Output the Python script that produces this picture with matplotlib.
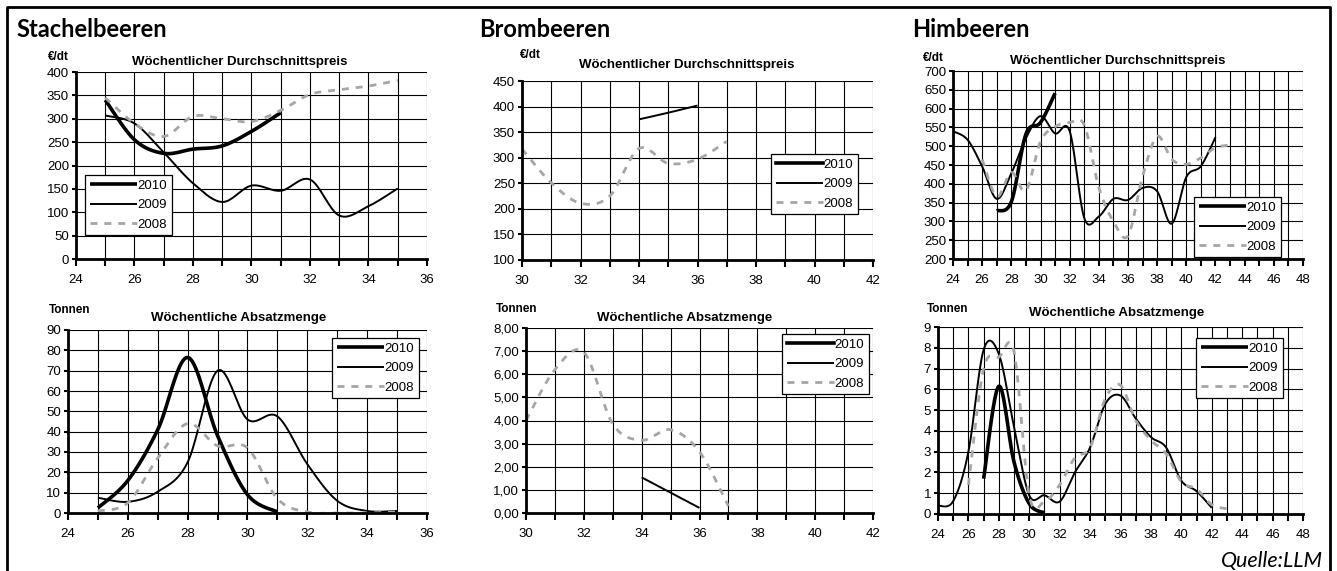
import numpy as np
import matplotlib
matplotlib.use("Agg")
import matplotlib.pyplot as plt
from matplotlib.ticker import MultipleLocator, FuncFormatter

plt.rcParams['font.family'] = ['Liberation Sans', 'DejaVu Sans']

# Stachelbeeren - Preis (EUR/dt)
sb_pr_wk_10 = [25, 26, 27, 28, 29, 30, 31]
sb_pr_10 = [340, 255, 226, 235, 242, 273, 313]
sb_pr_wk_09 = [25, 26, 27, 28, 29, 30, 31, 32, 33, 34, 35]
sb_pr_09 = [307, 290, 228, 162, 122, 157, 146, 170, 93, 113, 151]
sb_pr_wk_08 = [25, 26, 27, 28, 29, 30, 31, 32, 33, 34, 35]
sb_pr_08 = [345, 290, 262, 305, 300, 294, 318, 352, 362, 370, 382]

# Stachelbeeren - Menge (t)
sb_mg_wk_10 = [25, 26, 27, 28, 29, 30, 31]
sb_mg_10 = [2.5, 16, 41, 76.5, 38, 9, 0.5]
sb_mg_wk_09 = [25, 26, 27, 28, 29, 30, 31, 32, 33, 34, 35]
sb_mg_09 = [7.5, 5.5, 10.5, 25, 70, 46, 47.5, 24, 6, 1, 1]
sb_mg_wk_08 = [25, 26, 27, 28, 29, 30, 31, 32, 33, 34, 35]
sb_mg_08 = [1, 5, 27, 44, 33, 32, 7, 0.5, 0, 0, 0.5]

# Brombeeren
bb_pr_wk_09 = [34, 35, 36]
bb_pr_09 = [375, 388, 402]
bb_pr_wk_08 = [30, 31, 32, 33, 34, 35, 36, 37]
bb_pr_08 = [317, 251, 211, 225, 318, 289, 297, 332]
bb_mg_wk_09 = [34, 35, 36]
bb_mg_09 = [1.54, 0.88, 0.22]
bb_mg_wk_08 = [30, 31, 32, 33, 34, 35, 36, 37]
bb_mg_08 = [4.0, 6.2, 6.95, 3.85, 3.15, 3.6, 2.65, 0.3]

# Himbeeren
hb_pr_wk_10 = [27, 28, 29, 30, 31]
hb_pr_10 = [328, 352, 532, 563, 641]
hb_pr_wk_09 = list(range(24, 43))
hb_pr_09 = [540, 517, 446, 360, 428, 521, 580, 534, 540, 309, 313, 360, 357, 389, 380, 294, 418, 447, 524]
hb_pr_wk_08 = list(range(26, 44))
hb_pr_08 = [465, 366, 430, 382, 512, 552, 563, 556, 390, 300, 262, 420, 526, 465, 452, 469, 496, 503]
hb_mg_wk_10 = [27, 28, 29, 30, 31]
hb_mg_10 = [1.7, 6.15, 2.5, 0.5, 0.05]
hb_mg_wk_09 = list(range(24, 43))
hb_mg_09 = [0.4, 0.62, 3.0, 7.9, 7.7, 4.2, 0.9, 0.9, 0.6, 2.0, 3.2, 5.3, 5.7, 4.6, 3.7, 3.2, 1.6, 1.1, 0.3]
hb_mg_wk_08 = list(range(26, 44))
hb_mg_08 = [1.4, 7.0, 7.55, 7.8, 0.9, 0.6, 1.4, 2.7, 3.2, 5.55, 6.2, 4.5, 3.55, 2.9, 1.55, 1.2, 0.45, 0.25]

years = ["2010", "2009", "2008"]

W, H = 1337, 571
fig = plt.figure(figsize=(W / 100, H / 100), dpi=100)


def smooth(x, y, n=20):
    # excel-like smoothed line (bezier through the points)
    x = np.asarray(x, float)
    y = np.asarray(y, float)
    if len(x) < 3:
        return x, y
    P = np.column_stack([x, y])
    P = np.vstack([P[0], P, P[-1]])
    t = np.linspace(0, 1, n)[:, None]
    out = []
    for i in range(1, len(P) - 2):
        p0, p1, p2, p3 = P[i - 1], P[i], P[i + 1], P[i + 2]
        c1 = p1 + (p2 - p0) / 6
        c2 = p2 - (p3 - p1) / 6
        seg = (1 - t) ** 3 * p1 + 3 * (1 - t) ** 2 * t * c1 + 3 * (1 - t) * t ** 2 * c2 + t ** 3 * p2
        out.append(seg if i == 1 else seg[1:])
    out = np.vstack(out)
    return out[:, 0], out[:, 1]


def px_axes(l, t, r, b):
    return fig.add_axes([l / W, 1 - b / H, (r - l) / W, (b - t) / H])


def fxy(x, y):
    return x / W, 1 - y / H


def panel(box, xlim, ylim, ystep, series, title, tcenter, unit, ucenter, legpos, yfmt=None):
    ax = px_axes(*box)
    styles = [dict(color="black", lw=2.6),
              dict(color="black", lw=1.4),
              dict(color="#a6a6a6", lw=2.0, dashes=(2.5, 2.5))]
    handles = []
    for k, (wk, vals) in enumerate(series):
        if wk is None:
            h, = ax.plot([], [], label=years[k], **styles[k])
        else:
            xs, ys = smooth(wk, vals)
            h, = ax.plot(xs, ys, label=years[k], solid_capstyle="butt", **styles[k])
        handles.append(h)
    ax.set_xlim(*xlim)
    ax.set_ylim(*ylim)
    ax.xaxis.set_major_locator(MultipleLocator(1))
    ax.xaxis.set_major_formatter(FuncFormatter(lambda v, p: "%d" % v if int(round(v)) % 2 == 0 else ""))
    ax.yaxis.set_major_locator(MultipleLocator(ystep))
    if yfmt:
        ax.yaxis.set_major_formatter(FuncFormatter(yfmt))
    ax.grid(True, color="black", lw=0.8)
    ax.set_axisbelow(True)
    for s in ["top", "right"]:
        ax.spines[s].set_visible(False)
    for s in ["left", "bottom"]:
        ax.spines[s].set_linewidth(2.0)
    ax.tick_params(axis="x", direction="out", length=5, width=1.5, labelsize=9.5, pad=6)
    ax.tick_params(axis="y", direction="out", length=3, width=1.5, labelsize=9.5, pad=2)
    fig.text(*fxy(*tcenter), title, ha="center", va="center", fontsize=9.5, fontweight="bold")
    fig.text(*fxy(*ucenter), unit, ha="center", va="center", fontsize=8.5, fontweight="bold")
    lx, ly = fxy(*legpos)
    leg = ax.legend(handles=handles, loc="upper left", bbox_to_anchor=(lx, ly),
                    bbox_transform=fig.transFigure, fontsize=9.5, handlelength=3.6,
                    handletextpad=0.05, borderpad=0.35, labelspacing=0.55,
                    borderaxespad=0, fancybox=False, framealpha=1, frameon=True)
    leg.get_frame().set_edgecolor("black")
    leg.get_frame().set_linewidth(0.9)
    return ax


panel((76, 72, 427, 259), (24, 36), (0, 400), 50,
      [(sb_pr_wk_10, sb_pr_10), (sb_pr_wk_09, sb_pr_09), (sb_pr_wk_08, sb_pr_08)],
      "Wöchentlicher Durchschnittspreis", (240, 62), "€/dt", (58, 57), (85, 175))
panel((68, 330, 427, 513), (24, 36), (0, 90), 10,
      [(sb_mg_wk_10, sb_mg_10), (sb_mg_wk_09, sb_mg_09), (sb_mg_wk_08, sb_mg_08)],
      "Wöchentliche Absatzmenge", (239, 318), "Tonnen", (70, 310), (332, 338))
panel((522, 81, 873, 260), (30, 42), (100, 450), 50,
      [(None, None), (bb_pr_wk_09, bb_pr_09), (bb_pr_wk_08, bb_pr_08)],
      "Wöchentlicher Durchschnittspreis", (687, 65), "€/dt", (530, 55), (771, 154))
panel((526, 328, 873, 513), (30, 42), (0, 8), 1,
      [(None, None), (bb_mg_wk_09, bb_mg_09), (bb_mg_wk_08, bb_mg_08)],
      "Wöchentliche Absatzmenge", (685, 318), "Tonnen", (517, 309), (782, 334),
      yfmt=lambda v, p: ("%.2f" % v).replace(".", ","))
panel((953, 71, 1303, 259), (24, 48), (200, 700), 50,
      [(hb_pr_wk_10, hb_pr_10), (hb_pr_wk_09, hb_pr_09), (hb_pr_wk_08, hb_pr_08)],
      "Wöchentlicher Durchschnittspreis", (1118, 61), "€/dt", (933, 58), (1194, 197))
panel((938, 327, 1303, 514), (24, 48), (0, 9), 1,
      [(hb_mg_wk_10, hb_mg_10), (hb_mg_wk_09, hb_mg_09), (hb_mg_wk_08, hb_mg_08)],
      "Wöchentliche Absatzmenge", (1117, 313), "Tonnen", (948, 309), (1196, 338))

# big titles
for name, x in [("Stachelbeeren", 16), ("Brombeeren", 479), ("Himbeeren", 912)]:
    fig.text(*fxy(x, 37), name, ha="left", va="baseline", fontsize=17,
             fontweight="bold", family="Lato")
fig.text(*fxy(1323, 567), "Quelle:LLM", ha="right", va="baseline", fontsize=15.5,
         style="italic", family="Lato")

# frame round the whole thing (open at the bottom)
fx = [7 / W, 7 / W, 1330 / W, 1330 / W]
fy = [0, 1 - 7 / H, 1 - 7 / H, 0]
fig.add_artist(plt.Line2D(fx, fy, color="black", lw=2, transform=fig.transFigure))

fig.savefig("out.png", dpi=100)
